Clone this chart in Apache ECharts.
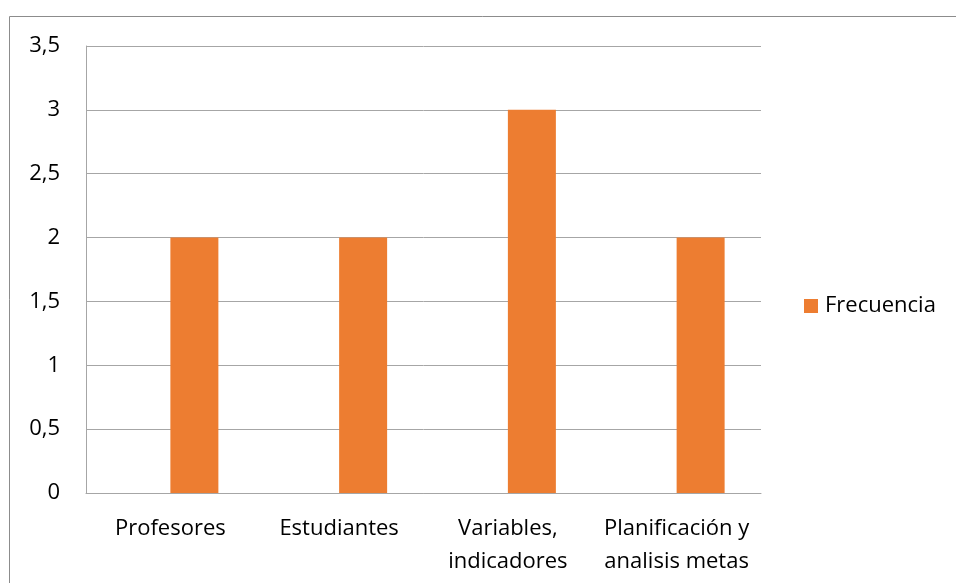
<!DOCTYPE html>
<html><head><meta charset="utf-8">
<script src="https://cdn.jsdelivr.net/npm/echarts@6/dist/echarts.min.js"></script>
<style>html,body{margin:0;padding:0;background:#fff}#c{width:956px;height:583px}</style>
</head><body><div id="c"></div>
<script>
const categories = ['Profesores', 'Estudiantes', 'Variables,\nindicadores', 'Planificación y\nanalisis metas'];
const frecuencia = [2, 2, 3, 2];
const emptySeries = [null, null, null, null];
const yTicks = [0, 0.5, 1, 1.5, 2, 2.5, 3, 3.5];

const FONT = '"Open Sans", sans-serif';
const FS = 22;
const chart = echarts.init(document.getElementById('c'), null, {renderer: 'canvas'});
chart.setOption({
  animation: false,
  backgroundColor: '#fff',
  graphic: [
    {type: 'line', shape: {x1: 9.5, y1: 16.5, x2: 956, y2: 16.5}, style: {stroke: '#8c8c8c', lineWidth: 1}},
    {type: 'line', shape: {x1: 9.5, y1: 16.5, x2: 9.5, y2: 583}, style: {stroke: '#8c8c8c', lineWidth: 1}}
  ],
  grid: {left: 86, top: 46, width: 675, height: 447, containLabel: false},
  legend: {
    data: ['Frecuencia'],
    left: 804, top: 295,
    orient: 'vertical',
    itemWidth: 14, itemHeight: 14, itemGap: 8,
    icon: 'rect',
    textStyle: {fontFamily: FONT, fontSize: FS, color: '#000', padding: [0,0,0,2]},
    padding: 0
  },
  xAxis: {
    type: 'category',
    data: categories,
    axisLine: {lineStyle: {color: '#a6a6a6', width: 1}},
    axisTick: {show: false},
    axisLabel: {fontFamily: FONT, fontSize: FS, color: '#000', lineHeight: 33, margin: 19, interval: 0}
  },
  yAxis: {
    type: 'value',
    min: 0, max: 3.5, interval: 0.5,
    axisLine: {show: true, lineStyle: {color: '#a6a6a6', width: 1}},
    axisTick: {show: false},
    splitLine: {lineStyle: {color: '#a6a6a6', width: 1}},
    axisLabel: {
      fontFamily: FONT, fontSize: FS, color: '#000', margin: 26,
      formatter: v => String(v).replace('.', ',')
    }
  },
  series: [
    {name: '_', type: 'bar', data: emptySeries, barWidth: 48, barGap: '0%', itemStyle: {color: 'transparent'}},
    {name: 'Frecuencia', type: 'bar', data: frecuencia, barWidth: 48, barGap: '0%', itemStyle: {color: '#ED7D31'}}
  ]
});
</script></body></html>
